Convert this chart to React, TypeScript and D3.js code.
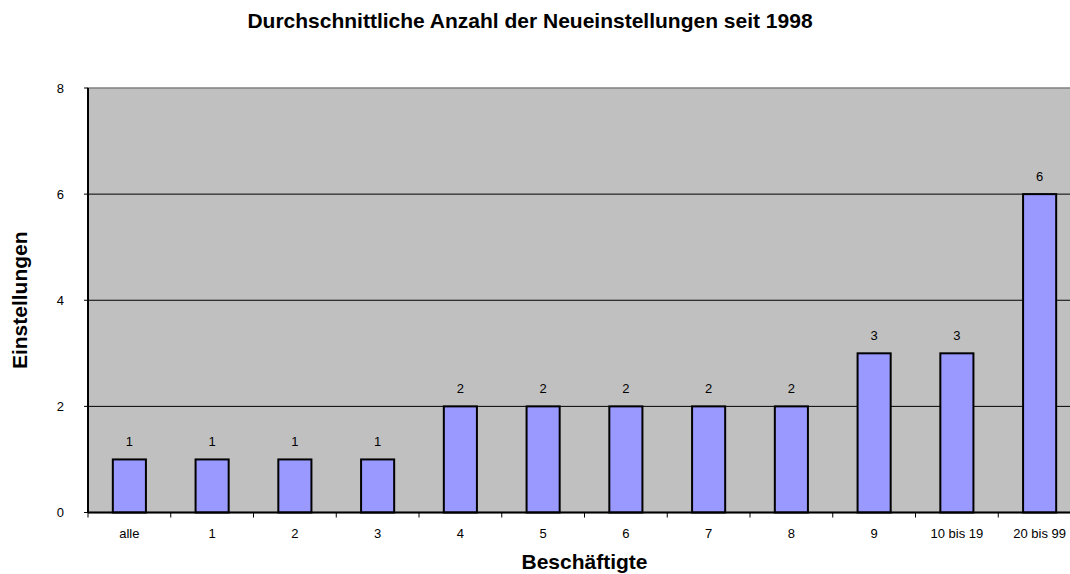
import React, { useEffect, useRef } from 'react';
import * as d3 from 'd3';

const categories = ['alle', '1', '2', '3', '4', '5', '6', '7', '8', '9', '10 bis 19', '20 bis 99'];
const values = [1, 1, 1, 1, 2, 2, 2, 2, 2, 3, 3, 6];
const yTicks = [0, 2, 4, 6, 8];

const title = 'Durchschnittliche Anzahl der Neueinstellungen seit 1998';
const xTitle = 'Beschäftigte';
const yTitle = 'Einstellungen';

const App: React.FC = () => {
  const ref = useRef<SVGSVGElement>(null);

  useEffect(() => {
    if (!ref.current) return;
    const width = 1070;
    const height = 574;
    // plot area runs a bit past the right edge, like the original
    const plot = { left: 88, right: 1081, top: 88, bottom: 512.5 };
    const font = '"Liberation Sans", Arial, sans-serif';

    const svg = d3.select(ref.current);
    svg.selectAll('*').remove();
    svg.attr('width', width).attr('height', height);

    const x = d3.scaleBand<string>()
      .domain(categories)
      .range([plot.left, plot.right])
      .padding(0);

    const y = d3.scaleLinear()
      .domain([0, 8])
      .range([plot.bottom, plot.top]);

    // Plot background
    svg.append('rect')
      .attr('x', plot.left)
      .attr('y', plot.top)
      .attr('width', plot.right - plot.left)
      .attr('height', plot.bottom - plot.top)
      .attr('fill', '#c0c0c0')
      .attr('stroke', '#808080')
      .attr('stroke-width', 1.5);

    // Gridlines
    svg.selectAll('.grid')
      .data(yTicks.filter(t => t > 0 && t < 8))
      .enter().append('line')
      .attr('x1', plot.left)
      .attr('x2', plot.right)
      .attr('y1', d => y(d))
      .attr('y2', d => y(d))
      .attr('stroke', '#000')
      .attr('stroke-width', 1);

    // Bars
    const barW = x.bandwidth() * 0.4;
    svg.selectAll('.bar')
      .data(values)
      .enter().append('rect')
      .attr('x', (d, i) => (x(categories[i]) || 0) + x.bandwidth() / 2 - barW / 2)
      .attr('y', d => y(d))
      .attr('width', barW)
      .attr('height', d => y(0) - y(d))
      .attr('fill', '#9999ff')
      .attr('stroke', '#000')
      .attr('stroke-width', 2);

    // Value labels
    svg.selectAll('.val')
      .data(values)
      .enter().append('text')
      .attr('x', (d, i) => (x(categories[i]) || 0) + x.bandwidth() / 2)
      .attr('y', d => y(d) - 13)
      .attr('text-anchor', 'middle')
      .attr('font-family', font)
      .attr('font-size', 13)
      .attr('fill', '#000')
      .text(d => d);

    // Y axis
    svg.append('line')
      .attr('x1', plot.left).attr('x2', plot.left)
      .attr('y1', plot.top).attr('y2', plot.bottom)
      .attr('stroke', '#000').attr('stroke-width', 2);
    svg.selectAll('.ytick')
      .data(yTicks)
      .enter().append('line')
      .attr('x1', plot.left - 4).attr('x2', plot.left)
      .attr('y1', d => y(d)).attr('y2', d => y(d))
      .attr('stroke', '#000');
    svg.selectAll('.ylab')
      .data(yTicks)
      .enter().append('text')
      .attr('x', 64)
      .attr('y', d => y(d) + 4.5)
      .attr('text-anchor', 'end')
      .attr('font-family', font)
      .attr('font-size', 13)
      .text(d => d);

    // X axis
    svg.append('line')
      .attr('x1', plot.left).attr('x2', plot.right)
      .attr('y1', plot.bottom).attr('y2', plot.bottom)
      .attr('stroke', '#000').attr('stroke-width', 2);
    svg.selectAll('.xtick')
      .data(categories)
      .enter().append('line')
      .attr('x1', d => x(d) || 0).attr('x2', d => x(d) || 0)
      .attr('y1', plot.bottom).attr('y2', plot.bottom + 5)
      .attr('stroke', '#000');
    svg.selectAll('.xlab')
      .data(categories)
      .enter().append('text')
      .attr('x', d => (x(d) || 0) + x.bandwidth() / 2)
      .attr('y', 538)
      .attr('text-anchor', 'middle')
      .attr('font-family', font)
      .attr('font-size', 13)
      .text(d => d);

    // Titles
    svg.append('text')
      .attr('x', 530)
      .attr('y', 28)
      .attr('text-anchor', 'middle')
      .attr('font-family', font)
      .attr('font-size', 21)
      .attr('font-weight', 'bold')
      .text(title);

    svg.append('text')
      .attr('x', (plot.left + plot.right) / 2)
      .attr('y', 569)
      .attr('text-anchor', 'middle')
      .attr('font-family', font)
      .attr('font-size', 21)
      .attr('font-weight', 'bold')
      .text(xTitle);

    svg.append('text')
      .attr('transform', `translate(27,${(plot.top + plot.bottom) / 2}) rotate(-90)`)
      .attr('text-anchor', 'middle')
      .attr('font-family', font)
      .attr('font-size', 21)
      .attr('font-weight', 'bold')
      .text(yTitle);
  }, []);

  return (
    <div style={{ position: 'absolute', left: 0, top: 0, background: '#fff' }}>
      <svg ref={ref} style={{ display: 'block' }}></svg>
    </div>
  );
};

export default App;
